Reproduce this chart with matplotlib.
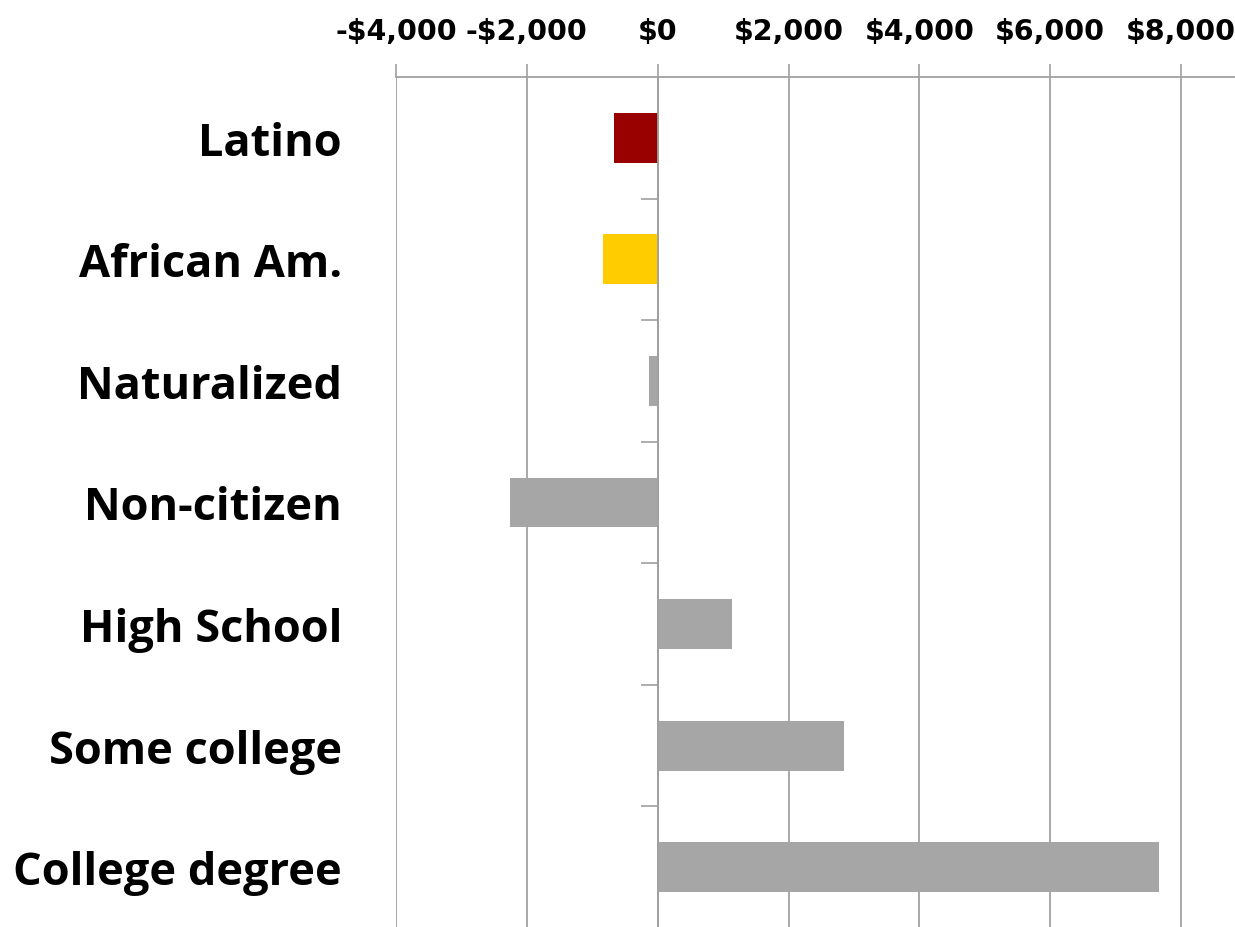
import matplotlib
matplotlib.use('Agg')
import matplotlib.pyplot as plt
import matplotlib.transforms as mtransforms
from matplotlib.ticker import FuncFormatter

# Datos
categorias = ['Latino', 'African Am.', 'Naturalized', 'Non-citizen',
              'High School', 'Some college', 'College degree']
valores = [-660, -835, -125, -2255, 1140, 2845, 7665]
colores = ['#990000', '#FFCC00', '#A6A6A6', '#A6A6A6',
           '#A6A6A6', '#A6A6A6', '#A6A6A6']
ticks_x = [-4000, -2000, 0, 2000, 4000, 6000, 8000]

plt.rcParams['font.family'] = ['Open Sans', 'DejaVu Sans']

fig = plt.figure(figsize=(12.35, 9.28), dpi=100)
ax = fig.add_axes([396 / 1235, -1 / 928, 1 - 396 / 1235, 1 - 77 / 928])

pos = list(range(len(categorias)))
ax.barh(pos, valores, height=0.41, color=colores, zorder=3)

ax.set_xlim(-4000, 8825)
ax.set_ylim(len(categorias) - 0.5, -0.5)

# Eje x arriba
ax.xaxis.tick_top()
ax.set_xticks(ticks_x)
ax.xaxis.set_major_formatter(FuncFormatter(
    lambda v, p: ('-$' if v < 0 else '$') + f'{abs(int(v)):,}'))
ax.tick_params(axis='x', which='major', length=9.4, width=1.2, color='#A0A0A0',
               pad=14, labelsize=20.5)
for lab in ax.get_xticklabels():
    lab.set_fontweight('bold')
    lab.set_family('DejaVu Sans')
ax.grid(axis='x', color='#A0A0A0', linewidth=1.3, zorder=0)

# Eje y en cero, con marcas entre categorías
ax.spines['left'].set_position(('data', 0))
ax.spines['left'].set_color('#A0A0A0')
ax.spines['left'].set_linewidth(1.3)
ax.spines['left'].set_zorder(4)
ax.spines['top'].set_color('#A0A0A0')
ax.spines['top'].set_linewidth(1.3)
ax.spines['right'].set_visible(False)
ax.spines['bottom'].set_visible(False)
ax.set_yticks([p + 0.5 for p in pos[:-1]])
ax.set_yticklabels([])
ax.tick_params(axis='y', length=12, width=1.2, color='#A0A0A0')

# Etiquetas de categorías
trans = mtransforms.blended_transform_factory(ax.transAxes, ax.transData)
for p, nombre in zip(pos, categorias):
    ax.text(-54 / 839, p, nombre, transform=trans, ha='right',
            va='center_baseline', fontsize=32.5, fontweight='bold', color='black')

fig.savefig('out.png', dpi=100)
